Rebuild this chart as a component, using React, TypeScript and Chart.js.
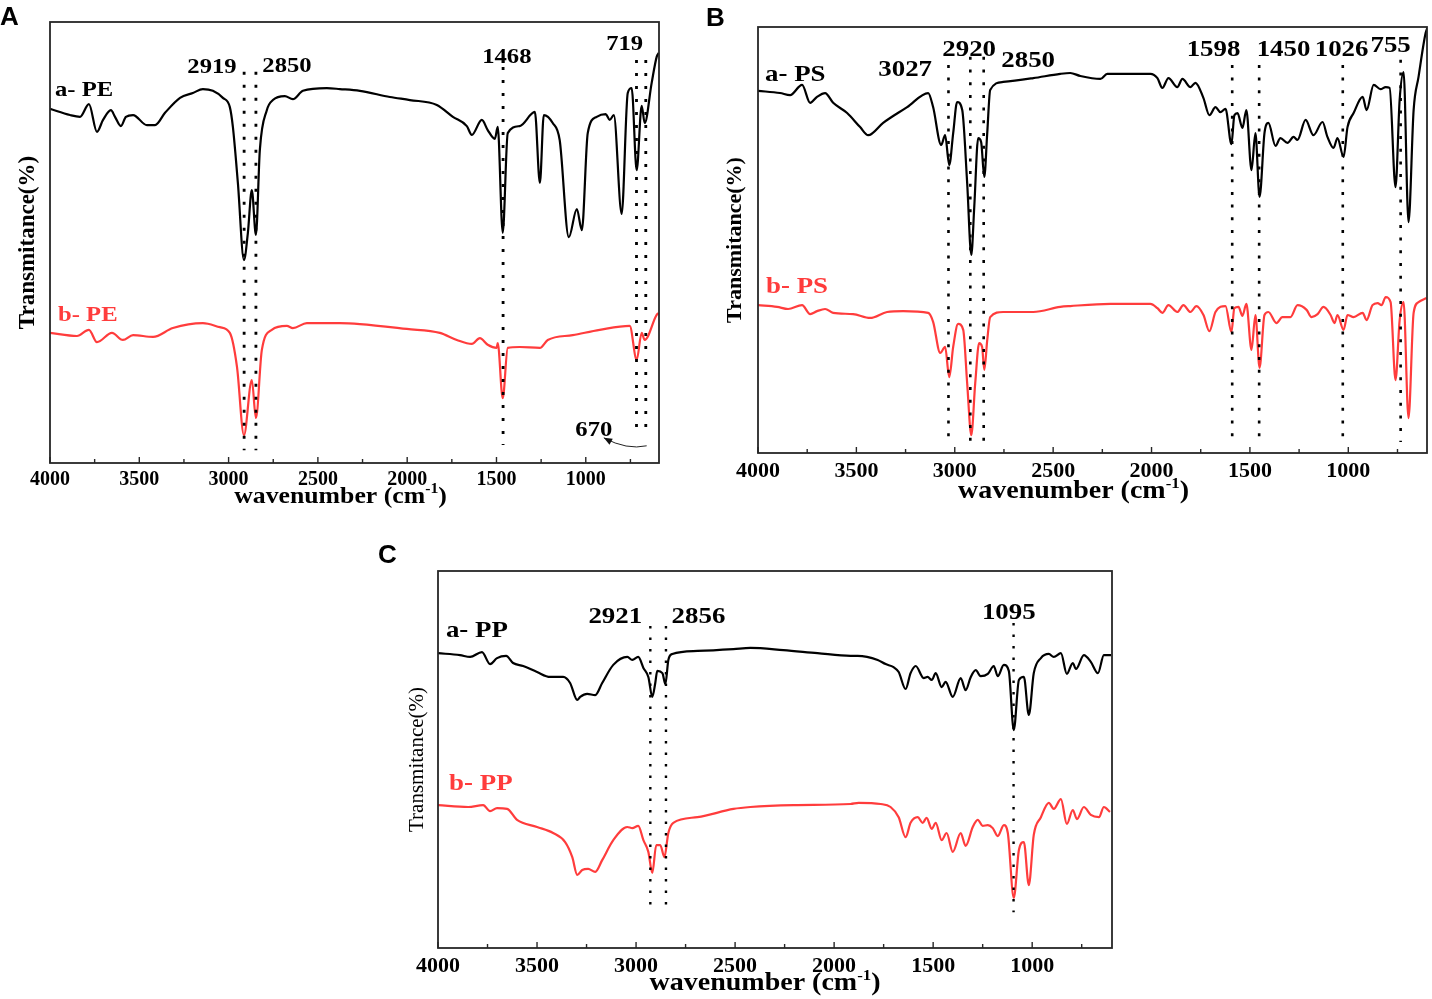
import { useEffect, useRef } from 'react';
import Chart from 'chart.js/auto';

type Pt = [number, number];
type Peak = { text: string; at: number; from: number; to: number; lx: number; ly: number };

// wavenumber (cm-1), transmittance on a free 0-100 scale (curves are offset)
const xTicks = [4000, 3500, 3000, 2500, 2000, 1500, 1000];

const peA: Pt[] = [
  [4000, 80.3], [3888, 78.9], [3832, 78.5], [3782, 81.4], [3737, 75.1], [3703, 77.8], [3659, 80.0],
  [3636, 78.5], [3603, 76.4], [3575, 78.5], [3535, 78.9], [3457, 76.6], [3412, 76.6], [3356, 79.4],
  [3272, 82.8], [3200, 83.9], [3144, 84.8], [3088, 84.4], [3032, 82.8], [2993, 80.7], [2976, 76.2],
  [2948, 63.5], [2914, 46.0], [2892, 52.2], [2870, 61.9], [2847, 51.7], [2825, 71.0], [2786, 80.0],
  [2752, 82.3], [2685, 83.2], [2640, 82.5], [2584, 84.4], [2450, 85.0], [2377, 84.8], [2265, 84.4],
  [2097, 83.0], [1985, 82.3], [1834, 81.2], [1744, 78.5], [1666, 76.4], [1638, 74.4], [1582, 77.8],
  [1549, 75.5], [1509, 73.5], [1493, 76.2], [1465, 52.2], [1437, 74.8], [1370, 76.4], [1285, 79.6],
  [1257, 63.5], [1235, 78.9], [1185, 77.1], [1146, 73.2], [1095, 51.2], [1050, 57.6], [1022, 52.8],
  [989, 74.8], [939, 78.5], [888, 79.1], [866, 77.8], [843, 78.9], [799, 56.5], [765, 83.9],
  [743, 85.0], [715, 66.4], [687, 81.0], [670, 77.1], [631, 86.2], [603, 92.1], [591, 93.0],
];
const peB: Pt[] = [
  [4000, 29.5], [3849, 28.8], [3782, 30.2], [3737, 27.4], [3653, 29.5], [3592, 27.9], [3535, 29.0],
  [3423, 28.6], [3312, 30.6], [3144, 31.7], [3049, 30.8], [2993, 29.5], [2953, 21.8], [2914, 6.3],
  [2870, 18.8], [2847, 10.2], [2814, 25.6], [2758, 30.2], [2674, 31.1], [2640, 30.6], [2562, 31.7],
  [2450, 31.7], [2377, 31.7], [2265, 31.5], [2002, 30.4], [1817, 29.5], [1722, 27.9], [1638, 27.0],
  [1593, 28.3], [1549, 26.8], [1499, 26.1], [1493, 27.2], [1465, 14.7], [1437, 26.1], [1370, 26.3],
  [1257, 26.1], [1213, 27.9], [1073, 29.0], [922, 30.2], [754, 31.1], [715, 23.4], [687, 29.5],
  [670, 27.9], [603, 33.6], [591, 34.0],
];
const psA: Pt[] = [
  [4000, 85.0], [3888, 84.5], [3837, 84.0], [3776, 86.4], [3735, 82.2], [3700, 83.6], [3659, 84.5],
  [3618, 82.2], [3547, 79.8], [3481, 76.5], [3440, 74.6], [3364, 77.5], [3242, 81.2], [3135, 84.5],
  [3110, 81.2], [3069, 72.3], [3049, 74.6], [3028, 67.6], [3008, 75.1], [2988, 82.4], [2962, 80.5],
  [2937, 63.4], [2916, 46.5], [2901, 57.7], [2881, 73.9], [2866, 73.0], [2850, 64.8], [2835, 75.1],
  [2820, 85.2], [2754, 87.1], [2601, 88.0], [2464, 89.0], [2413, 89.2], [2362, 88.5], [2260, 87.8],
  [2225, 89.0], [2006, 89.0], [1970, 88.0], [1945, 85.7], [1914, 88.0], [1869, 85.9], [1843, 87.8],
  [1802, 85.9], [1777, 86.9], [1736, 83.3], [1706, 79.3], [1675, 81.2], [1650, 80.0], [1624, 80.8],
  [1594, 72.5], [1579, 79.3], [1563, 79.8], [1538, 76.3], [1518, 80.5], [1492, 66.4], [1472, 75.1],
  [1451, 60.1], [1426, 75.1], [1406, 77.5], [1370, 72.1], [1345, 73.9], [1309, 72.8], [1278, 74.2],
  [1258, 73.5], [1217, 78.2], [1177, 74.6], [1131, 77.7], [1106, 74.2], [1075, 71.6], [1055, 73.9],
  [1024, 69.5], [1004, 76.5], [973, 79.8], [927, 83.6], [907, 80.5], [871, 86.4], [836, 85.4],
  [810, 85.9], [790, 85.7], [760, 62.4], [739, 82.9], [719, 89.4], [694, 54.2], [668, 80.5],
  [643, 88.3], [607, 98.6], [598, 99.8],
];
const psB: Pt[] = [
  [4000, 34.7], [3903, 34.3], [3847, 33.8], [3776, 34.7], [3735, 32.6], [3700, 33.3], [3659, 33.8],
  [3618, 32.9], [3517, 32.6], [3430, 31.7], [3344, 33.1], [3262, 33.3], [3135, 32.9], [3110, 30.8],
  [3074, 23.5], [3049, 24.9], [3028, 17.8], [3008, 24.9], [2983, 30.3], [2957, 28.9], [2937, 16.4],
  [2916, 4.2], [2896, 16.4], [2876, 25.8], [2861, 24.9], [2850, 19.5], [2835, 26.5], [2820, 31.9],
  [2754, 33.1], [2601, 33.1], [2464, 34.3], [2413, 34.5], [2209, 35.0], [2006, 35.0], [1970, 34.0],
  [1945, 32.9], [1914, 34.7], [1869, 33.1], [1838, 34.7], [1802, 33.1], [1772, 34.5], [1736, 32.4],
  [1706, 28.6], [1675, 33.1], [1624, 34.5], [1594, 28.4], [1579, 34.0], [1558, 34.3], [1538, 32.2],
  [1518, 35.0], [1492, 24.2], [1472, 32.4], [1451, 20.0], [1426, 32.4], [1406, 33.1], [1365, 30.5],
  [1335, 31.9], [1294, 31.9], [1258, 34.7], [1212, 33.6], [1187, 31.9], [1156, 32.6], [1126, 34.3],
  [1090, 32.4], [1070, 30.5], [1055, 32.4], [1024, 28.9], [1004, 32.4], [973, 31.9], [927, 32.9],
  [907, 31.2], [877, 34.7], [851, 35.2], [831, 34.7], [810, 36.6], [785, 35.4], [760, 17.1],
  [739, 31.2], [719, 35.4], [694, 8.2], [668, 32.9], [643, 35.4], [602, 36.4],
];
const ppA: Pt[] = [
  [4000, 78.2], [3889, 77.7], [3838, 77.2], [3778, 78.5], [3737, 75.3], [3702, 76.9], [3656, 77.5],
  [3621, 75.6], [3570, 74.8], [3500, 73.2], [3434, 71.9], [3368, 71.9], [3333, 70.3], [3297, 65.8],
  [3282, 66.6], [3247, 67.4], [3206, 67.1], [3171, 70.3], [3115, 75.1], [3044, 77.2], [3019, 76.4],
  [2989, 77.2], [2963, 74.3], [2938, 71.9], [2918, 66.6], [2903, 70.3], [2893, 73.5], [2867, 72.9],
  [2852, 70.0], [2837, 76.4], [2817, 78.0], [2690, 78.8], [2508, 79.3], [2423, 79.6], [2256, 79.0],
  [2084, 78.2], [1917, 77.5], [1881, 77.5], [1780, 76.4], [1740, 75.3], [1700, 74.5], [1674, 73.2],
  [1639, 68.7], [1614, 72.9], [1588, 74.8], [1548, 71.6], [1528, 71.9], [1507, 71.1], [1487, 72.9],
  [1457, 69.2], [1437, 70.6], [1401, 66.6], [1361, 71.6], [1336, 68.4], [1310, 71.9], [1285, 73.7],
  [1260, 72.1], [1224, 72.7], [1194, 74.8], [1174, 72.1], [1143, 75.1], [1118, 73.5], [1093, 57.8],
  [1067, 71.1], [1042, 71.9], [1017, 61.8], [992, 72.9], [956, 76.9], [916, 78.0], [891, 77.2],
  [855, 78.2], [825, 72.7], [795, 75.6], [779, 74.0], [739, 77.7], [704, 75.9], [668, 72.9],
  [638, 77.7], [602, 77.7],
];
const ppB: Pt[] = [
  [4000, 37.9], [3848, 37.4], [3772, 37.9], [3737, 36.3], [3702, 37.1], [3651, 36.9], [3601, 34.0],
  [3500, 32.1], [3419, 30.5], [3358, 28.1], [3322, 24.1], [3297, 19.4], [3272, 20.7], [3242, 21.0],
  [3206, 20.2], [3171, 23.3], [3115, 28.6], [3044, 32.1], [3019, 31.8], [2989, 32.4], [2963, 28.6],
  [2938, 25.5], [2918, 19.9], [2898, 27.3], [2878, 27.3], [2857, 24.1], [2837, 30.5], [2812, 33.2],
  [2690, 34.7], [2508, 36.9], [2423, 37.4], [2205, 37.9], [1917, 38.2], [1876, 38.5], [1765, 38.2],
  [1715, 37.4], [1674, 34.7], [1639, 29.4], [1614, 33.2], [1578, 34.7], [1553, 33.2], [1533, 34.5],
  [1507, 31.6], [1487, 33.2], [1457, 28.6], [1432, 30.5], [1401, 25.5], [1361, 30.5], [1336, 27.1],
  [1300, 32.1], [1275, 34.0], [1250, 32.4], [1224, 32.6], [1199, 31.8], [1174, 29.7], [1143, 32.6],
  [1123, 30.5], [1093, 13.3], [1067, 26.0], [1042, 28.1], [1017, 16.7], [992, 30.0], [956, 34.7],
  [916, 38.5], [891, 36.9], [855, 39.5], [825, 32.9], [795, 36.6], [774, 34.2], [739, 37.4],
  [704, 35.3], [663, 34.7], [638, 37.4], [607, 36.1],
];

// marked bands: label, dotted line position, line extent, label anchor
const pePeaks: Peak[] = [
  { text: '2919', at: 2913, from: 88.7, to: 2.9, lx: 3093, ly: 89.8 },
  { text: '2850', at: 2847, from: 88.7, to: 2.9, lx: 2673, ly: 90.0 },
  { text: '1468', at: 1463, from: 89.8, to: 4.1, lx: 1442, ly: 92.1 },
  { text: '719', at: 716, from: 91.4, to: 5.9, lx: 782, ly: 95.0 },
  { text: '670', at: 664, from: 91.4, to: 5.9, lx: 955, ly: 7.5 },
];
const psPeaks: Peak[] = [
  { text: '3027', at: 3032, from: 91.1, to: 2.3, lx: 3252, ly: 89.9 },
  { text: '2920', at: 2921, from: 93.0, to: 2.3, lx: 2927, ly: 94.6 },
  { text: '2850', at: 2853, from: 93.0, to: 2.3, lx: 2627, ly: 92.0 },
  { text: '1598', at: 1590, from: 91.1, to: 2.6, lx: 1685, ly: 94.6 },
  { text: '1450', at: 1453, from: 91.1, to: 2.6, lx: 1329, ly: 94.6 },
  { text: '1026', at: 1028, from: 91.1, to: 2.6, lx: 1034, ly: 94.6 },
  { text: '755', at: 734, from: 92.3, to: 2.6, lx: 785, ly: 95.5 },
];
const ppPeaks: Peak[] = [
  { text: '2921', at: 2928, from: 85.4, to: 9.3, lx: 3105, ly: 87.8 },
  { text: '2856', at: 2849, from: 85.4, to: 9.3, lx: 2685, ly: 87.8 },
  { text: '1095', at: 1094, from: 86.2, to: 9.5, lx: 1118, ly: 88.9 },
];

const BLACK = '#000000';
const RED = '#ff3c3c';
const SERIF = '"Liberation Serif", "Times New Roman", Times, serif';
const SX = 1.12; // the figure's lettering is a little wide

type Series = { pts: Pt[]; color: string; width: number };
type Tag = { text: string; x: number; y: number; color: string };
type PanelProps = {
  cx: number; cy: number; cw: number; ch: number;
  area: { l: number; t: number; r: number; b: number };
  xMin: number;
  series: Series[];
  tags: Tag[];
  peaks: Peak[];
  dots: { w: number; on: number; off: number };
  tickSize: number;
  labelSize: number;
  yTitle: { x: number; size: number; weight: string };
  xTitle: { dx: number; dy: number; size: number };
  arrow?: { from: Pt; via: Pt; to: Pt };
};

function wideText(ctx: CanvasRenderingContext2D, text: string, x: number, y: number, align: CanvasTextAlign) {
  ctx.save();
  ctx.translate(x, y);
  ctx.scale(SX, 1);
  ctx.textAlign = align;
  ctx.fillText(text, 0, 0);
  ctx.restore();
}

function Panel(p: PanelProps) {
  const canvas = useRef<HTMLCanvasElement>(null);

  useEffect(() => {
    const decor = {
      id: 'decor',
      afterDraw(chart: any) {
        const { ctx, chartArea: a } = chart;
        const xs = chart.scales.x;
        const ys = chart.scales.y;
        const X = (v: number) => xs.getPixelForValue(v);
        const Y = (v: number) => ys.getPixelForValue(v);
        ctx.save();

        // frame
        ctx.strokeStyle = '#262626';
        ctx.lineWidth = 1.8;
        ctx.strokeRect(a.left, a.top, a.right - a.left, a.bottom - a.top);

        // inward ticks on the bottom axis
        ctx.lineWidth = 1.4;
        xs.ticks.forEach((t: any) => {
          const marks: [number, number][] = [[t.value, 6]];
          if (t.value - 250 >= xs.min) marks.push([t.value - 250, 4]);
          marks.forEach(([v, len]) => {
            const px = X(v);
            ctx.beginPath();
            ctx.moveTo(px, a.bottom);
            ctx.lineTo(px, a.bottom - len);
            ctx.stroke();
          });
        });

        // dotted band markers
        ctx.strokeStyle = BLACK;
        ctx.lineWidth = p.dots.w;
        ctx.setLineDash([p.dots.on, p.dots.off]);
        p.peaks.forEach(k => {
          ctx.beginPath();
          ctx.moveTo(X(k.at), Y(k.from));
          ctx.lineTo(X(k.at), Y(k.to));
          ctx.stroke();
        });
        ctx.setLineDash([]);

        ctx.textBaseline = 'middle';
        ctx.fillStyle = BLACK;
        ctx.font = `bold ${p.labelSize}px ${SERIF}`;
        p.peaks.forEach(k => wideText(ctx, k.text, X(k.lx), Y(k.ly), 'center'));
        p.tags.forEach(g => {
          ctx.fillStyle = g.color;
          wideText(ctx, g.text, X(g.x), Y(g.y), 'left');
        });

        if (p.arrow) {
          const [x0, y0] = [X(p.arrow.from[0]), Y(p.arrow.from[1])];
          const [xc, yc] = [X(p.arrow.via[0]), Y(p.arrow.via[1])];
          const [x1, y1] = [X(p.arrow.to[0]), Y(p.arrow.to[1])];
          ctx.strokeStyle = '#222';
          ctx.lineWidth = 1;
          ctx.beginPath();
          ctx.moveTo(x0, y0);
          ctx.quadraticCurveTo(xc, yc, x1, y1);
          ctx.stroke();
          const ang = Math.atan2(y1 - yc, x1 - xc);
          ctx.fillStyle = '#111';
          ctx.beginPath();
          ctx.moveTo(x1, y1);
          ctx.lineTo(x1 - 9 * Math.cos(ang - 0.4), y1 - 9 * Math.sin(ang - 0.4));
          ctx.lineTo(x1 - 9 * Math.cos(ang + 0.4), y1 - 9 * Math.sin(ang + 0.4));
          ctx.closePath();
          ctx.fill();
        }

        // x title with superscript
        const big = `bold ${p.xTitle.size}px ${SERIF}`;
        const small = `bold ${Math.round(p.xTitle.size * 0.6)}px ${SERIF}`;
        ctx.textBaseline = 'alphabetic';
        ctx.fillStyle = BLACK;
        ctx.font = big;
        const w1 = ctx.measureText('wavenumber (cm').width;
        const w3 = ctx.measureText(')').width;
        ctx.font = small;
        const w2 = ctx.measureText('-1').width;
        const total = (w1 + w2 + w3) * SX;
        let x = (a.left + a.right) / 2 + p.xTitle.dx - total / 2;
        const base = a.bottom + p.xTitle.dy;
        ctx.font = big;
        wideText(ctx, 'wavenumber (cm', x, base, 'left');
        x += w1 * SX;
        ctx.font = small;
        wideText(ctx, '-1', x, base - p.xTitle.size * 0.42, 'left');
        x += w2 * SX;
        ctx.font = big;
        wideText(ctx, ')', x, base, 'left');
        ctx.restore();
      },
    };

    const chart = new Chart(
      // @ts-expect-error next
      canvas.current,
      {
        type: 'line',
        data: {
          datasets: p.series.map(s => ({
            data: s.pts.map(([x, y]) => ({ x, y })),
            borderColor: s.color,
            borderWidth: s.width,
            pointRadius: 0,
            fill: false,
            cubicInterpolationMode: 'monotone',
          })),
        },
        options: {
          responsive: false,
          animation: false,
          events: [],
          layout: {
            padding: { top: p.area.t - p.cy, right: p.cx + p.cw - p.area.r, left: 0, bottom: 0 },
          },
          plugins: { legend: { display: false }, tooltip: { enabled: false } },
          scales: {
            x: {
              type: 'linear',
              reverse: true,
              min: p.xMin,
              max: 4000,
              grid: { display: false, drawTicks: false },
              border: { display: false },
              afterBuildTicks: (s: any) => { s.ticks = xTicks.map(value => ({ value })); },
              ticks: {
                autoSkip: false,
                maxRotation: 0,
                padding: 5,
                color: BLACK,
                font: { family: SERIF, size: p.tickSize, weight: 'bold' },
                callback: (v: any) => String(v),
              },
              afterFit: (s: any) => { s.height = p.cy + p.ch - p.area.b; },
            },
            y: {
              min: 0,
              max: 100,
              grid: { display: false, drawTicks: false },
              border: { display: false },
              ticks: { display: false },
              title: {
                display: true,
                text: 'Transmitance(%)',
                color: BLACK,
                font: { family: SERIF, size: p.yTitle.size, weight: p.yTitle.weight as any },
                padding: { top: p.yTitle.x - p.cx - p.yTitle.size * 0.6, bottom: 0 },
              },
              afterFit: (s: any) => { s.width = p.area.l - p.cx; },
            },
          },
        },
        plugins: [decor],
      } as any
    );

    return () => {
      chart.destroy();
    };
  }, []);

  return (
    <canvas
      ref={canvas}
      width={p.cw}
      height={p.ch}
      style={{ position: 'absolute', left: p.cx, top: p.cy, width: p.cw, height: p.ch }}
    ></canvas>
  );
}

const letter = (text: string, left: number, top: number) => (
  <div
    style={{
      position: 'absolute', left, top, font: 'bold 26px "Liberation Sans", Arial, sans-serif',
      lineHeight: 1, color: BLACK, zIndex: 2,
    }}
  >
    {text}
  </div>
);

export default function App() {
  return (
    <div style={{ position: 'absolute', left: 0, top: 0, width: 1432, height: 999, background: '#fff', overflow: 'hidden' }}>
      <Panel
        cx={0} cy={0} cw={680} ch={520}
        area={{ l: 50, t: 22, r: 659, b: 463 }}
        xMin={590}
        series={[{ pts: peA, color: BLACK, width: 2.2 }, { pts: peB, color: RED, width: 2.2 }]}
        tags={[
          { text: 'a- PE', x: 3972, y: 84.6, color: BLACK },
          { text: 'b- PE', x: 3955, y: 33.6, color: RED },
        ]}
        peaks={pePeaks}
        dots={{ w: 2.8, on: 3, off: 10 }}
        tickSize={20}
        labelSize={22}
        yTitle={{ x: 28, size: 23, weight: 'bold' }}
        xTitle={{ dx: -14, dy: 40, size: 23 }}
        arrow={{ from: [659, 3.9], via: [770, 2.9], to: [899, 5.7] }}
      />
      <Panel
        cx={686} cy={0} cw={746} ch={520}
        area={{ l: 758, t: 27, r: 1427, b: 453 }}
        xMin={600}
        series={[{ pts: psA, color: BLACK, width: 2.2 }, { pts: psB, color: RED, width: 2.2 }]}
        tags={[
          { text: 'a- PS', x: 3964, y: 88.7, color: BLACK },
          { text: 'b- PS', x: 3959, y: 39.0, color: RED },
        ]}
        peaks={psPeaks}
        dots={{ w: 2.6, on: 3, off: 9.7 }}
        tickSize={22}
        labelSize={24}
        yTitle={{ x: 735, size: 22, weight: 'bold' }}
        xTitle={{ dx: -19, dy: 45, size: 25 }}
      />
      <Panel
        cx={380} cy={535} cw={760} ch={464}
        area={{ l: 438, t: 571, r: 1112, b: 948 }}
        xMin={597}
        series={[{ pts: ppA, color: BLACK, width: 2.2 }, { pts: ppB, color: RED, width: 2.2 }]}
        tags={[
          { text: 'a- PP', x: 3960, y: 84.1, color: BLACK },
          { text: 'b- PP', x: 3944, y: 43.5, color: RED },
        ]}
        peaks={ppPeaks}
        dots={{ w: 2.4, on: 2.5, off: 9 }}
        tickSize={22}
        labelSize={24}
        yTitle={{ x: 417, size: 21, weight: 'normal' }}
        xTitle={{ dx: -10, dy: 42, size: 25 }}
      />
      {letter('A', 0, 3)}
      {letter('B', 706, 4)}
      {letter('C', 378, 541)}
    </div>
  );
}
